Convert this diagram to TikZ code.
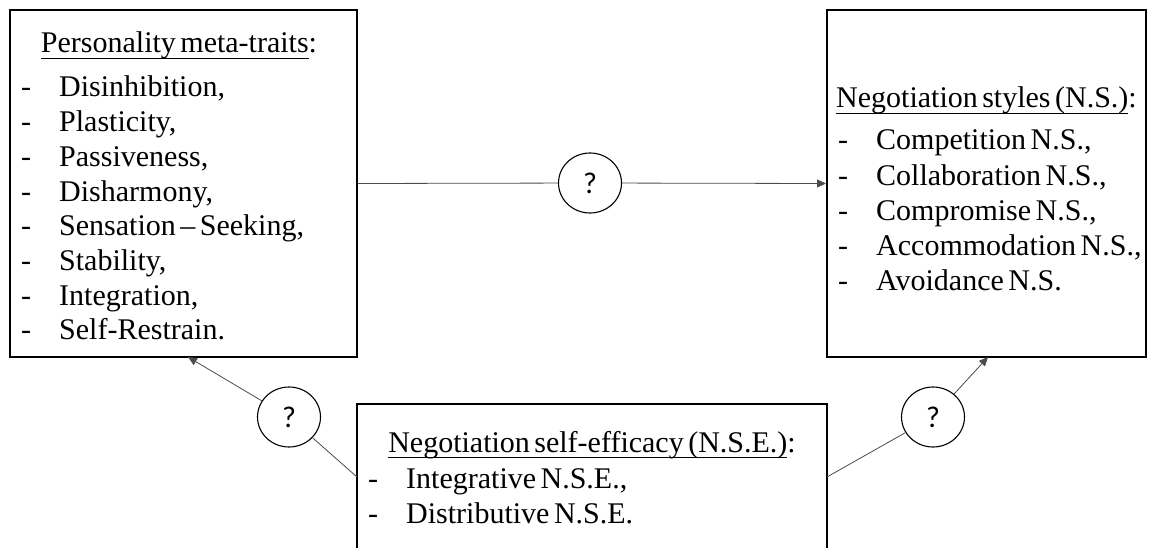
\documentclass[tikz,border=0pt]{standalone}
\usepackage{fontspec}
\setmainfont{Liberation Serif}
\newfontfamily\qfont{Carlito}
\newcommand\myul[1]{\setbox0\hbox{#1}\rlap{\rule[-6pt]{\wd0}{1.4pt}}\box0}
\newcommand\bodyfont{\fontsize{30}{35}\selectfont\spaceskip=0.15em plus 0.05em\relax}
\usetikzlibrary{arrows.meta,shapes.geometric}
\begin{document}
\begin{tikzpicture}[x=1pt,y=-1pt,
  box/.style={draw, line width=2pt, rectangle, inner sep=0pt},
  qcirc/.style={draw, line width=1.1pt, ellipse, minimum width=63pt, minimum height=60pt, inner sep=0pt, fill=white, font=\qfont\fontsize{30}{30}\selectfont},
  conn/.style={draw=black!70, line width=0.8pt},
  tip/.style={-{Triangle[length=9pt,width=8pt]}},
  txt/.style={anchor=base west, inner sep=0pt, font=\bodyfont},
  ttl/.style={anchor=base, inner sep=0pt, font=\bodyfont},
  dsh/.style={anchor=base, inner sep=0pt, font=\bodyfont}]
\useasboundingbox (0,0) rectangle (1156,548);
\clip (0,0) rectangle (1156,548);
% boxes
\node[box, minimum width=347pt, minimum height=347pt] (L) at (183.5,183.5) {};
\node[box, minimum width=319pt, minimum height=347pt] (R) at (986.5,183.5) {};
\node[box, minimum width=470pt, minimum height=196pt] (B) at (592,502) {};
% circles
\node[qcirc] (C1) at (590,183) {?};
\node[qcirc] (C2) at (289,417) {?};
\node[qcirc] (C3) at (933,417) {?};
% connector ends
\coordinate (bl) at (357,477);
\coordinate (br) at (827,477);
\coordinate (tl) at (188,357);
\coordinate (tr) at (988,357);
\draw[conn] (L.east) -- (C1);
\draw[conn,tip] (C1) -- (R.west);
\draw[conn] (bl) -- (C2);
\draw[conn,tip] (C2) -- (tl);
\draw[conn] (br) -- (C3);
\draw[conn,tip] (C3) -- (tr);
% left box text
\node[ttl] (Lt) at (179,53) {\myul{Personality meta-traits}:};
\foreach \t [count=\i from 0] in {{Disinhibition,},{Plasticity,},{Passiveness,},{Disharmony,},{Sensation – Seeking,},{Stability,},{Integration,},{Self-Restrain.}} {
  \node[dsh] (Ld\i) at (26,{97+34.7*\i}) {-};
  \node[txt] (Li\i) at (59,{97+34.7*\i}) {\t};
}
% right box text
\node[ttl] (Rt) at (986.5,108) {\myul{Negotiation styles (N.S.)}:};
\foreach \t [count=\i from 0] in {{Competition N.S.,},{Collaboration N.S.,},{Compromise N.S.,},{Accommodation N.S.,},{Avoidance N.S.}} {
  \node[dsh] (Rd\i) at (843,{150+35.2*\i}) {-};
  \node[txt] (Ri\i) at (876,{150+35.2*\i}) {\t};
}
% bottom box text
\node[ttl] (Bt) at (592,452) {\myul{Negotiation self-efficacy (N.S.E.)}:};
\foreach \t [count=\i from 0] in {{Integrative N.S.E.,},{Distributive N.S.E.}} {
  \node[dsh] (Bd\i) at (373,{488+35*\i}) {-};
  \node[txt] (Bi\i) at (406,{488+35*\i}) {\t};
}
\end{tikzpicture}
\end{document}
